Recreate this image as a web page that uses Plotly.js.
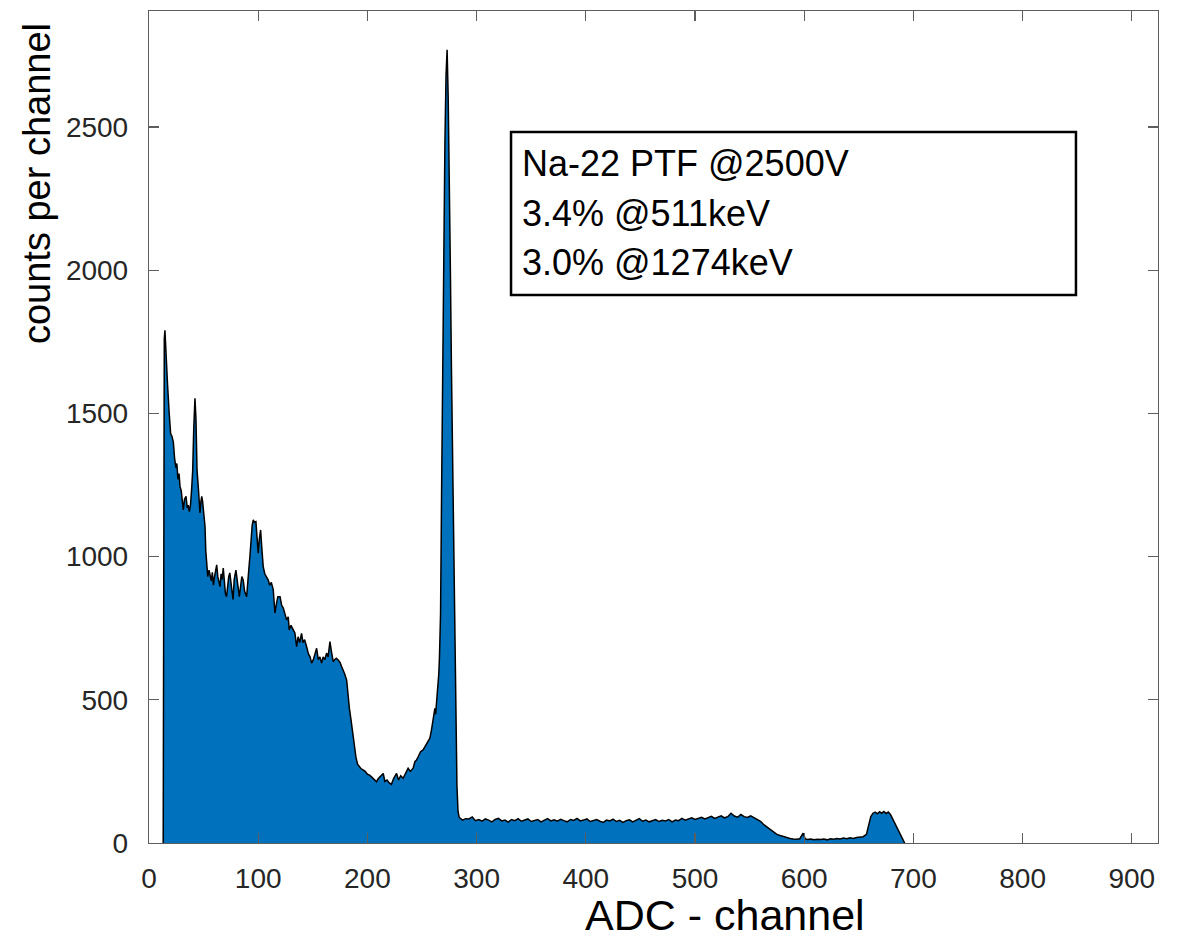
<!DOCTYPE html>
<html>
<head>
<meta charset="utf-8">
<script src="https://cdn.plot.ly/plotly-3.0.1.min.js"></script>
<style>html,body{margin:0;padding:0;background:#fff;}#chart{width:1185px;height:940px;}</style>
</head>
<body>
<div id="chart"></div>
<script>
// Segment A: low-energy region (Compton + backscatter)
var chanA = [13,13.3,14,14.6,15.5,17,18.5,19.8,21,22.3,23.5,24.7,25.5,26.5,27.5,28.4,29.5,30.5,31.4,32.5,33.9,35,36,36.9,38,39,40,41,42.1,43,44,45.1,46,46.7,47.5,48.3,49.1,50,51.3,52,52.8,53.8,55,56,57,58,59,60,61,62,63,64,65,66,67,68,69,70,71,72,73,74,75,76,77,78,79.6,81,82.7,84,85,86.3,87.5,89.4,90.5,91.5,92.4,93.5,94.5,95.5,96.5,97.9,99,100,101,102.2,103.5,104.6,106,107.5,109.2,110.5,112,113.8,115.3,116.9,118,120,121.5,123,124.5,126,127.5,128.4,130,131.5,133.6,135.2,136.5,138,139.7,141,142.5,144.3,146,147.5,148.9,150.5,152,153.5,155,156.5,158,159.5,161,162.6,164,165.7,167,168.7,170,171.5,173.3,175,176.5,177.8,179.2,181,182.4];
var cntA = [0,1600,1760,1790,1700,1600,1500,1430,1420,1400,1340,1310,1325,1270,1290,1245,1230,1190,1163,1200,1210,1170,1180,1157,1180,1233,1300,1450,1553,1480,1300,1245,1180,1152,1190,1210,1192,1150,1105,1020,959,930,953,930,915,945,900,930,960,971,930,910,895,940,920,960,905,870,860,900,930,943,900,880,850,920,953,900,860,900,930,918,880,860,900,960,1000,1060,1110,1128,1120,1122,1060,1012,1060,1093,1020,965,940,930,918,900,910,884,803,840,860,860,830,820,800,779,790,744,760,750,733,686,720,700,732,700,710,686,660,650,628,640,660,680,640,650,628,650,640,663,650,703,670,633,640,645,639,630,615,604,590,569,500];

// Segment B: valley and 511 keV photopeak
var chanB = [183.5,185,186.5,188,189.5,191,192.5,194,196,198,200,202,204,206,208.4,210,212,214.5,216,218,220,222,224,226.7,228.5,230.5,232.7,235,237.3,239.3,241.9,243.5,245,246.5,248.7,251,252.5,254.2,257.2,258.7,260.2,261.8,262.5,263.9,264.5,265.4,266,267,268,269,270,271,272,273,274,275,276,277,278,279,280,281,282,283,284];
var cntB = [470,430,380,340,300,275,267,260,255,250,240,237,230,222,214,225,232,243,215,220,210,205,225,243,220,235,226,244,261,250,261,284,290,301,319,325,335,348,366,395,441,470,450,511,540,592,650,800,1250,1750,2150,2450,2680,2770,2600,2350,2000,1650,1350,1000,700,420,200,110,90];

// Segment C: flat Compton continuum of the 1274 keV line
var chanC = [287,290,293,296,299,302,305,308,311,314,317,320,323,326,329,332,335,338,341,344,347,350,353,356,359,362,365,368,371,374,377,380,383,386,389,392,395,398,401,404,407,410,413,416,419,422,425,428,431,434,437,440,443,446,449,452,455,458,461,464,467,470,473,476,479,482,485,488,491,494,497,500,503,506,509,512,515,518,521,524,527,530,533,536,539,542,545,548,551,554,557];
var cntC = [80,85,84,91,78,82,76,84,80,74,82,86,77,80,73,82,78,85,76,80,84,75,79,82,74,80,85,77,81,76,83,78,74,82,79,86,77,80,84,75,79,82,76,72,80,77,83,75,79,72,78,81,74,79,85,76,80,74,78,82,75,79,77,82,74,80,78,86,80,84,88,82,86,90,84,88,93,86,90,95,88,92,104,94,90,100,92,89,95,88,82];

// Segment D: Compton edge tail and 1274 keV photopeak
var chanD = [560,563,566,569,572,575,578,581,584,587,590,593,596,599,601,603,606,609,612,615,618,621,624,627,630,633,636,639,642,645,648,651,654,657,659,661,663,665,667,669,671,673,675,677,679,681,683,685,687,689,691,692];
var cntD = [76,64,55,45,38,30,26,22,18,16,14,13,15,34,14,12,14,11,13,12,14,11,15,13,16,14,17,15,18,16,19,20,22,30,60,92,104,108,102,109,104,110,103,108,100,85,70,52,38,22,8,0];

// Tick values
var xTicks = [0,100,200,300,400,500,600,700,800,900];
var yTicks = [0,500,1000,1500,2000,2500];

// Box text and titles
var boxLines = ["Na-22 PTF @2500V", "3.4% @511keV", "3.0% @1274keV"];
var xTitle = "ADC - channel";
var yTitle = "counts per channel";

var channels = chanA.concat(chanB, chanC, chanD);
var counts = cntA.concat(cntB, cntC, cntD);

var trace = {
  x: channels,
  y: counts,
  type: 'scatter',
  mode: 'lines',
  fill: 'tozeroy',
  fillcolor: '#0072BD',
  line: {color: '#000000', width: 1.5},
  hoverinfo: 'x+y'
};

var tickFont = {family: 'Liberation Sans, Arial, sans-serif', size: 28, color: '#262626'};
var axisCommon = {
  showgrid: false,
  zeroline: false,
  showline: true,
  linecolor: '#5e5e5e',
  linewidth: 1.2,
  mirror: 'ticks',
  ticks: 'inside',
  ticklen: 10,
  tickwidth: 1.2,
  tickcolor: '#5e5e5e',
  tickfont: tickFont
};

var boxFont = {family: 'Liberation Sans, Arial, sans-serif', size: 36, color: '#000'};

var layout = {
  width: 1185,
  height: 940,
  margin: {l: 149, r: 27, t: 11, b: 97},
  paper_bgcolor: '#ffffff',
  plot_bgcolor: '#ffffff',
  showlegend: false,
  xaxis: Object.assign({}, axisCommon, {
    range: [0, 924],
    tickmode: 'array',
    tickvals: xTicks,
    ticktext: xTicks.map(String),
    ticklabelstandoff: 10
  }),
  yaxis: Object.assign({}, axisCommon, {
    range: [0, 2905],
    tickmode: 'array',
    tickvals: yTicks,
    ticktext: yTicks.map(String),
    ticklabelstandoff: 14
  }),
  shapes: [{
    type: 'rect', xref: 'paper', yref: 'paper',
    x0: 0.3588, x1: 0.9187, y0: 0.6587, y1: 0.8546,
    line: {color: '#000000', width: 2.5},
    fillcolor: '#ffffff'
  }],
  annotations: [
    {xref: 'paper', yref: 'paper', x: 0.3677, y: 0.817, xanchor: 'left', yanchor: 'middle', showarrow: false,
     text: boxLines[0], font: boxFont},
    {xref: 'paper', yref: 'paper', x: 0.3677, y: 0.757, xanchor: 'left', yanchor: 'middle', showarrow: false,
     text: boxLines[1], font: boxFont},
    {xref: 'paper', yref: 'paper', x: 0.3677, y: 0.698, xanchor: 'left', yanchor: 'middle', showarrow: false,
     text: boxLines[2], font: boxFont},
    {xref: 'paper', yref: 'paper', x: 0.5704, y: -0.0865, xanchor: 'center', yanchor: 'middle', showarrow: false,
     text: xTitle, font: {family: 'Liberation Sans, Arial, sans-serif', size: 43, color: '#000'}},
    {xref: 'paper', yref: 'paper', x: -0.111, y: 0.792, xanchor: 'center', yanchor: 'middle', showarrow: false,
     textangle: -90, text: yTitle, font: {family: 'Liberation Sans, Arial, sans-serif', size: 38, color: '#000'}}
  ]
};

Plotly.newPlot('chart', [trace], layout, {displayModeBar: false, staticPlot: true});
</script>
</body>
</html>
